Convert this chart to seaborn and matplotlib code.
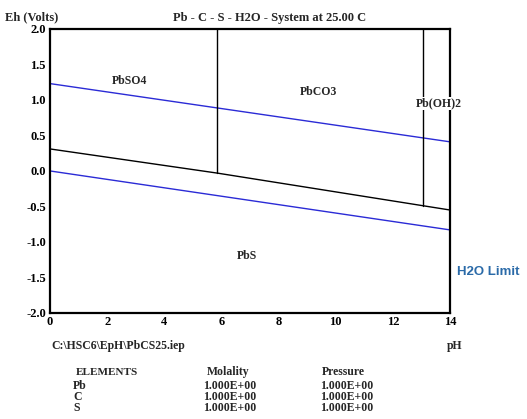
import matplotlib
matplotlib.use("Agg")
import matplotlib.pyplot as plt
import seaborn as sns
import pandas as pd
from matplotlib.ticker import MultipleLocator

# water stability limits (blue)
h2o_ph = [0, 14]
h2o_upper = [1.23, 0.41]
h2o_lower = [0.0, -0.83]

# PbS boundary (black)
pbs_ph = [0, 5.85, 13.06, 14]
pbs_eh = [0.31, -0.03, -0.49, -0.55]

# vertical boundaries
vert_ph = [5.85, 13.06]
vert_bottom = [-0.03, -0.49]

labels = ["PbSO4", "PbCO3", "Pb(OH)2", "PbS"]
label_ph = [2.8, 9.4, 13.6, 6.9]
label_eh = [1.27, 1.11, 0.95, -1.2]

elements = ["Pb", "C", "S"]
molality = ["1.000E+00", "1.000E+00", "1.000E+00"]
pressure = ["1.000E+00", "1.000E+00", "1.000E+00"]

sns.set_style("white")
plt.rcParams['font.family'] = ['Liberation Serif', 'DejaVu Serif']
plt.rcParams['font.weight'] = 'bold'

fig = plt.figure(figsize=(5.27, 4.19), dpi=100)
ax = fig.add_axes([0.0949, 0.253, 0.759, 0.678])

h2o = pd.DataFrame({"pH": h2o_ph * 2, "Eh": h2o_upper + h2o_lower,
                    "line": ["up", "up", "low", "low"]})
sns.lineplot(data=h2o, x="pH", y="Eh", units="line", estimator=None,
             color="#2b2bd6", lw=1, ax=ax, sort=False)
sns.lineplot(x=pbs_ph, y=pbs_eh, color="black", lw=1, ax=ax, sort=False)
for p, b in zip(vert_ph, vert_bottom):
    ax.plot([p, p], [2.0, b], color="black", lw=1)

for t, x, y in zip(labels, label_ph, label_eh):
    ax.text(x, y, t, ha="center", va="center", fontsize=8.5, fontweight="bold",
            zorder=5, clip_on=False,
            bbox=dict(facecolor="white", edgecolor="none", pad=0.5))

ax.set_xlim(0, 14)
ax.set_ylim(-2, 2)
ax.xaxis.set_major_locator(MultipleLocator(2))
ax.yaxis.set_major_locator(MultipleLocator(0.5))
ax.xaxis.set_minor_locator(MultipleLocator(1))
ax.yaxis.set_minor_locator(MultipleLocator(0.25))
ax.set_yticklabels([f"{v:.1f}" for v in ax.get_yticks()])
ax.tick_params(axis="both", which="both", direction="in", colors="#dddddd",
               labelcolor="black", labelsize=9, length=3, width=0.6, pad=3)
ax.tick_params(axis="x", pad=2)
for lab in ax.get_xticklabels() + ax.get_yticklabels():
    lab.set_fontweight("bold")
for s in ax.spines.values():
    s.set_color("black")
    s.set_linewidth(1.6)
ax.set_xlabel("")
ax.set_ylabel("")

fig.text(0.01, 0.958, "Eh (Volts)", fontsize=9, fontweight="bold", va="center")
fig.text(0.512, 0.958, "Pb - C - S - H2O - System at 25.00 C", fontsize=9,
         fontweight="bold", ha="center", va="center")
fig.text(0.867, 0.351, "H2O Limit", fontsize=9.5, fontweight="bold",
         color="#2a6aa8", family="Liberation Sans", va="center")
fig.text(0.097, 0.174, "C:\\HSC6\\EpH\\PbCS25.iep", fontsize=8.5,
         fontweight="bold", va="center")
fig.text(0.848, 0.174, "pH", fontsize=8.5, fontweight="bold", va="center")

rows_y = [0.112, 0.079, 0.053, 0.026]
fig.text(0.144, rows_y[0], "ELEMENTS", fontsize=8, fontweight="bold", va="center")
fig.text(0.393, rows_y[0], "Molality", fontsize=8.5, fontweight="bold", va="center")
fig.text(0.611, rows_y[0], "Pressure", fontsize=8.5, fontweight="bold", va="center")
for i, (e, m, p) in enumerate(zip(elements, molality, pressure)):
    y = rows_y[i + 1]
    fig.text(0.139, y, e, fontsize=8.5, fontweight="bold", va="center")
    fig.text(0.385, y, m, fontsize=8.5, fontweight="bold", va="center")
    fig.text(0.607, y, p, fontsize=8.5, fontweight="bold", va="center")

fig.savefig("out.png", dpi=100)
